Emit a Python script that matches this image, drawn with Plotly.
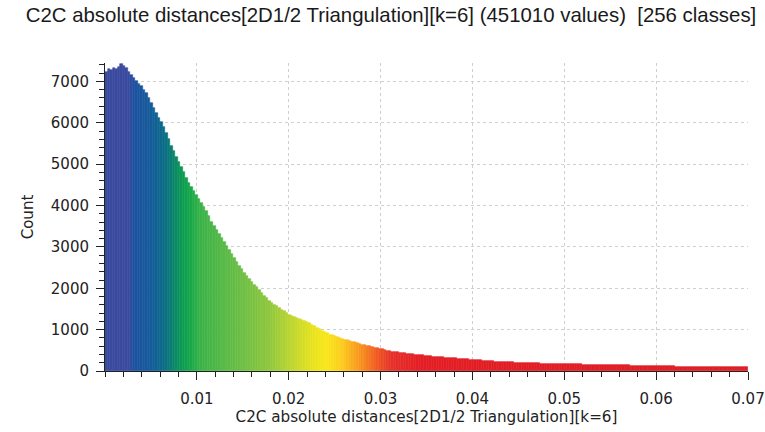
import numpy as np
import plotly.graph_objects as go

# ---- data ----
n_classes = 256
dist_min = 0.0
dist_max = 0.07

counts = [
    7240, 7290, 7270, 7320, 7300, 7350, 7420, 7370, 7330, 7220,
    7160, 7090, 7010, 6940, 6900, 6800, 6720, 6600, 6470, 6350,
    6230, 6120, 6010, 5900, 5760, 5610, 5450, 5320, 5180, 5060,
    4930, 4800, 4670, 4550, 4440, 4340, 4250, 4160, 4070, 3970,
    3860, 3740, 3610, 3500, 3400, 3310, 3210, 3110, 3020, 2920,
    2820, 2730, 2640, 2550, 2460, 2380, 2300, 2230, 2160, 2090,
    2020, 1950, 1880, 1820, 1760, 1700, 1650, 1600, 1560, 1520,
    1480, 1440, 1400, 1360, 1330, 1300, 1280, 1260, 1240, 1210,
    1180, 1150, 1110, 1080, 1040, 1010, 970, 940, 910, 880,
    860, 840, 820, 800, 780, 760, 740, 725, 705, 690,
    680, 660, 640, 625, 610, 600, 575, 565, 550, 540,
    525, 510, 495, 480, 470, 460, 450, 440, 430, 425,
    415, 410, 400, 395, 390, 385, 375, 370, 365, 355,
    350, 345, 340, 335, 330, 325, 320, 315, 310, 305,
    300, 295, 290, 285, 280, 275, 270, 268, 262, 258,
    252, 248, 242, 238, 232, 228, 225, 224, 219, 217,
    213, 211, 206, 205, 201, 199, 197, 196, 192, 191,
    188, 186, 183, 181, 179, 177, 176, 174, 172, 171,
    169, 168, 166, 165, 164, 162, 161, 160, 159, 158,
    157, 156, 155, 154, 153, 152, 151, 150, 149, 148,
    147, 145, 144, 142, 141, 139, 137, 136, 134, 132,
    131, 129, 127, 126, 124, 122, 121, 119, 118, 116,
    115, 114, 113, 112, 111, 110, 109, 108, 108, 107,
    106, 105, 105, 104, 104, 103, 103, 102, 102, 101,
    100, 99, 99, 98, 97, 97, 96, 95, 94, 93,
    92, 91, 90, 89, 88, 86,
]

x_ticks = [0.01, 0.02, 0.03, 0.04, 0.05, 0.06, 0.07]
x_tick_labels = ["0.01", "0.02", "0.03", "0.04", "0.05", "0.06", "0.07"]
y_ticks = [0, 1000, 2000, 3000, 4000, 5000, 6000, 7000]
y_tick_labels = ["0", "1000", "2000", "3000", "4000", "5000", "6000", "7000"]

title_text = "C2C absolute distances[2D1/2 Triangulation][k=6] (451010 values)  [256 classes]"
x_title = "C2C absolute distances[2D1/2 Triangulation][k=6]"
y_title = "Count"

# ---- geometry of classes ----
edges = np.linspace(dist_min, dist_max, n_classes + 1)
centers = (edges[:-1] + edges[1:]) / 2
width = (dist_max - dist_min) / n_classes

colorscale = [
    [0.000, "#3A4A9E"],
    [0.040, "#3A4A9E"],
    [0.043, "#1F52A3"],
    [0.070, "#165A9C"],
    [0.094, "#0B6E86"],
    [0.117, "#0C9559"],
    [0.133, "#15A84A"],
    [0.149, "#3BB34A"],
    [0.210, "#6CBE45"],
    [0.255, "#8EC73F"],
    [0.290, "#BCD631"],
    [0.325, "#EAE31E"],
    [0.345, "#F8E71A"],
    [0.370, "#FDCB1F"],
    [0.395, "#F89A1E"],
    [0.420, "#F26322"],
    [0.445, "#E6332A"],
    [0.490, "#E31E25"],
    [1.000, "#E01D24"],
]

fig = go.Figure(
    go.Bar(
        x=centers,
        y=counts,
        width=width,
        marker=dict(
            color=centers,
            colorscale=colorscale,
            cmin=dist_min,
            cmax=dist_max,
            line=dict(width=0.6, color=centers, colorscale=colorscale,
                      cmin=dist_min, cmax=dist_max),
        ),
        showlegend=False,
        hoverinfo="x+y",
    )
)

grid_col = "#CFCFCF"
fig.update_layout(
    width=765,
    height=432,
    margin=dict(l=105, r=17, t=63, b=61),
    paper_bgcolor="white",
    plot_bgcolor="white",
    bargap=0,
    title=dict(
        text=title_text,
        x=391 / 765,
        xanchor="center",
        y=1 - 15 / 432,
        yanchor="middle",
        font=dict(family="Liberation Sans, Arial", size=20.4, color="#1a1a1a"),
    ),
    font=dict(family="DejaVu Sans", size=15, color="#222"),
)

fig.update_xaxes(
    range=[dist_min, dist_max],
    automargin=False,
    tickvals=x_ticks,
    ticktext=x_tick_labels,
    ticks="outside",
    ticklen=8,
    tickcolor="#222",
    tickfont=dict(family="DejaVu Sans", size=15, color="#222"),
    ticklabelstandoff=6,
    showline=True,
    linecolor="#222",
    linewidth=1,
    showgrid=True,
    gridcolor=grid_col,
    griddash="dot",
    gridwidth=1,
    zeroline=False,
    minor=dict(dtick=0.002, tick0=0, ticks="outside", ticklen=5, tickcolor="#222", showgrid=False),
    title=dict(text=x_title, font=dict(family="DejaVu Sans", size=15.2, color="#222"), standoff=4),
)

fig.update_yaxes(
    range=[0, 7446],
    automargin=False,
    tickvals=y_ticks,
    ticktext=y_tick_labels,
    ticks="outside",
    ticklen=8,
    tickcolor="#222",
    tickfont=dict(family="DejaVu Sans", size=15, color="#222"),
    ticklabelstandoff=4,
    showline=True,
    linecolor="#222",
    linewidth=1,
    showgrid=True,
    gridcolor=grid_col,
    griddash="dot",
    gridwidth=1,
    zeroline=False,
    minor=dict(dtick=200, tick0=0, ticks="outside", ticklen=5, tickcolor="#222", showgrid=False),
    title=dict(text=y_title, font=dict(family="DejaVu Sans", size=15, color="#222"), standoff=13),
)

fig.write_html("out.html")
